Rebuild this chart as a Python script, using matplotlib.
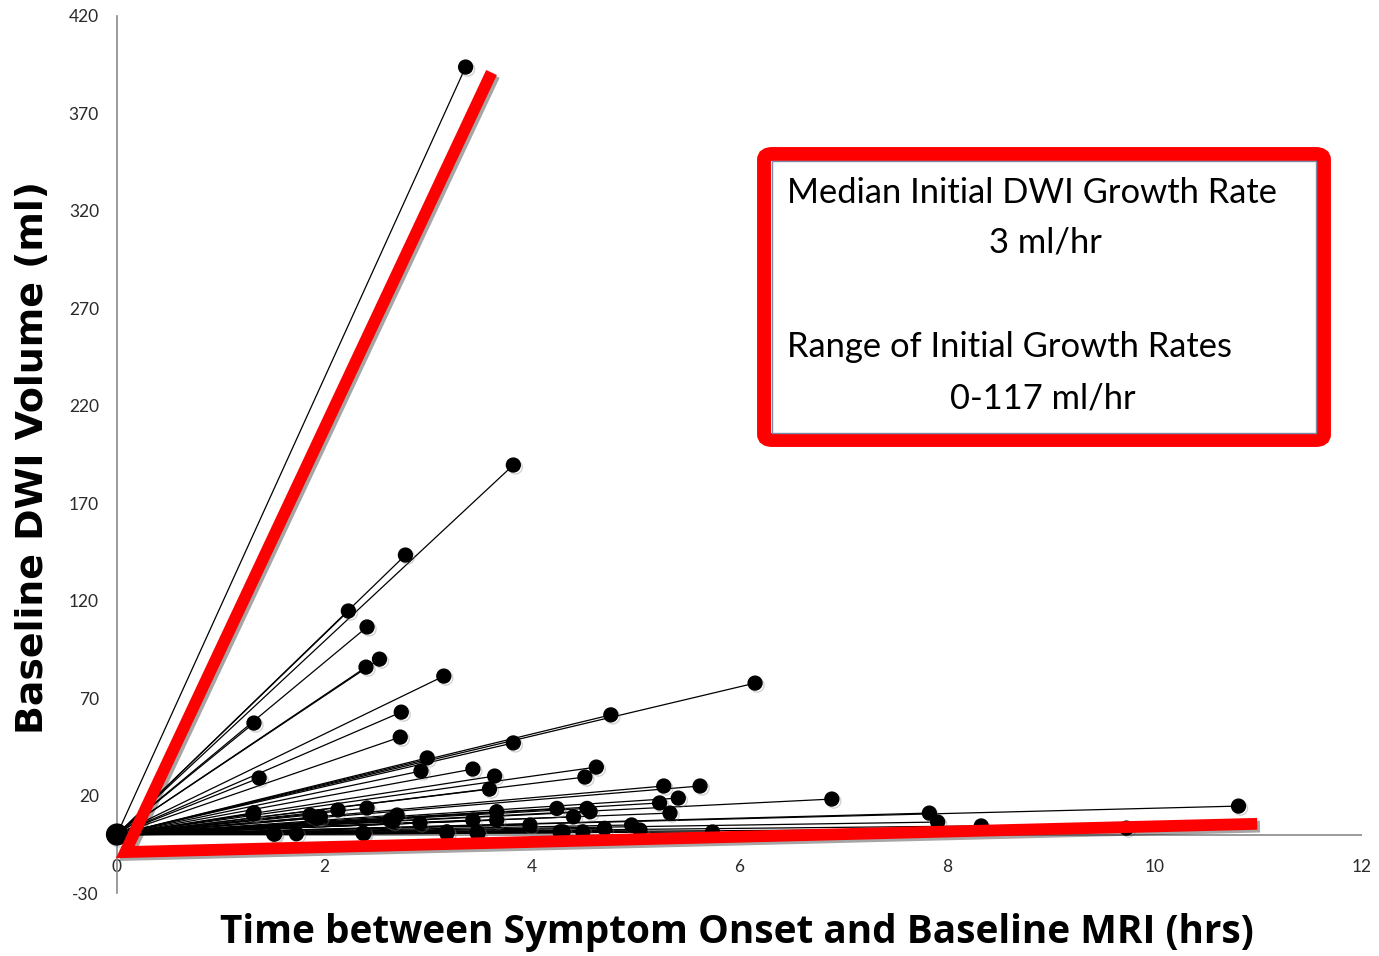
import matplotlib.pyplot as plt
import matplotlib.patheffects as pe
from matplotlib.patches import FancyBboxPatch, Rectangle

plt.rcParams['axes.unicode_minus'] = False

# every patient starts at symptom onset with no lesion
onset_t0 = 0.0
onset_vol0 = 0.0

# time from symptom onset to baseline MRI (hrs) and baseline DWI volume (ml)
onset_hrs = [3.36, 3.82, 2.78, 2.23, 2.41, 2.53, 2.40, 3.15, 6.15, 2.74,
             1.32, 4.76, 2.73, 3.82, 2.99, 2.93, 3.43, 3.64, 4.62, 4.51,
             1.37, 3.59, 5.27, 5.62, 5.41, 5.23, 6.89, 5.33, 7.83, 10.81,
             7.91, 8.33, 9.73, 5.74, 1.32, 1.51, 1.73, 1.86, 1.92, 2.13,
             2.41, 2.37, 2.70, 2.66, 3.18, 4.24, 4.53, 4.56, 3.66, 3.66,
             3.43, 4.40, 3.98, 3.18, 3.48, 4.27, 4.49, 4.70, 4.96, 5.04,
             2.92, 2.63, 1.96, 4.30, 1.31, 3.47, 4.28, 2.38, 1.52]
dwi_ml = [393.8, 189.6, 143.4, 114.7, 106.5, 90.0, 85.9, 81.3, 77.7, 62.8,
          57.2, 61.4, 50.0, 47.0, 39.3, 32.6, 33.6, 30.0, 34.6, 29.5,
          29.0, 23.3, 24.9, 24.9, 18.7, 16.2, 18.2, 11.0, 11.0, 14.6,
          6.4, 4.4, 3.3, 1.3, 11.2, 0.4, 0.4, 10.0, 8.5, 12.6,
          13.6, 0.8, 10.0, 6.6, 1.4, 13.4, 13.4, 11.7, 11.7, 7.4,
          7.4, 9.1, 4.9, 0.6, 0.6, 1.4, 1.4, 3.2, 4.9, 2.3,
          5.9, 7.4, 9.1, 1.4, 10.5, 1.0, 0.8, 0.5, 0.2]

x_ticks = [0, 2, 4, 6, 8, 10, 12]
y_ticks = [-30, 20, 70, 120, 170, 220, 270, 320, 370, 420]

# red wedge bounding the growth rates
wedge_hrs = [3.61, 0.08, 10.99]
wedge_ml = [391, -9, 5.5]

W, H = 1379, 956
fig = plt.figure(figsize=(W / 100, H / 100), dpi=100)
ax = fig.add_axes([117 / W, 63 / H, 1245 / W, 877 / H])
ax.set_xlim(0, 12)
ax.set_ylim(-30, 420)

# each patient: segment from onset to the baseline scan
for t, v in zip(onset_hrs, dwi_ml):
    ax.plot([onset_t0, t], [onset_vol0, v], color='black', lw=0.9,
            clip_on=False, zorder=3)

dot_shadow = [pe.SimpleLineShadow(offset=(1.5, -1.5), shadow_color='gray', alpha=0.35),
              pe.Normal()]
ax.plot(onset_hrs, dwi_ml, ls='none', marker='o', ms=10, color='black',
        clip_on=False, zorder=4, path_effects=dot_shadow)
# all the onset markers pile up into one blob
ax.plot([onset_t0], [onset_vol0], ls='none', marker='o', ms=15, color='black',
        clip_on=False, zorder=4, path_effects=dot_shadow)

ax.axhline(0, color='#8a8a8a', lw=1.2, zorder=1)

for s in ['top', 'right']:
    ax.spines[s].set_visible(False)
ax.spines['left'].set_color('#8a8a8a')
ax.spines['left'].set_linewidth(1.2)
ax.spines['bottom'].set_position(('data', -12.5))
ax.spines['bottom'].set_color('none')

ax.set_xticks(x_ticks)
ax.set_yticks(y_ticks)
ax.tick_params(length=0, labelcolor='#2a2a2a', labelsize=12.5)
ax.tick_params(axis='y', pad=13)
ax.tick_params(axis='x', pad=0)
for lab in ax.get_xticklabels() + ax.get_yticklabels():
    lab.set_family('Lato')

ax.plot(wedge_hrs, wedge_ml, color='red', lw=8.5, solid_joinstyle='miter',
        solid_capstyle='butt', clip_on=False, zorder=6,
        path_effects=[pe.SimpleLineShadow(offset=(2, -2), alpha=0.35), pe.Normal()])

renderer = fig.canvas.get_renderer()


def fit_width(txt, target_px, vertical=False):
    bb = txt.get_window_extent(renderer)
    size = bb.height if vertical else bb.width
    txt.set_fontsize(txt.get_fontsize() * target_px / size)


ylab = fig.text(33 / W, 1 - 457 / H, 'Baseline DWI Volume (ml)', rotation=90,
                ha='center', va='center', fontsize=25, fontweight='bold',
                family='DejaVu Sans')
fit_width(ylab, 555, vertical=True)
xlab = fig.text(737 / W, 1 - 932 / H,
                'Time between Symptom Onset and Baseline MRI (hrs)',
                ha='center', va='center', fontsize=27, fontweight='bold',
                family='Open Sans')
fit_width(xlab, 1035)

# text box with red frame
frame = FancyBboxPatch((764 / W, 1 - 440 / H), 560 / W, 286 / H,
                       boxstyle='round,pad=0,rounding_size=0.006',
                       transform=fig.transFigure, fc='white', ec='red', lw=10,
                       zorder=7,
                       path_effects=[pe.SimplePatchShadow(offset=(3, -3), alpha=0.35),
                                     pe.Normal()])
fig.patches.append(frame)
inner = Rectangle((772 / W, 1 - 433 / H), 544 / W, 272 / H,
                  transform=fig.transFigure, fill=False, ec='#7a8aa8', lw=1,
                  zorder=8)
fig.patches.append(inner)

t1 = fig.text(787 / W, 1 - 193 / H, 'Median Initial DWI Growth Rate',
              ha='left', va='center', fontsize=24, family='Lato', zorder=9)
fit_width(t1, 490)
fs = t1.get_fontsize()
fig.text(1045 / W, 1 - 243 / H, '3 ml/hr', ha='center', va='center',
         fontsize=fs, family='Lato', zorder=9)
fig.text(787 / W, 1 - 347 / H, 'Range of Initial Growth Rates', ha='left',
         va='center', fontsize=fs, family='Lato', zorder=9)
fig.text(1043 / W, 1 - 399 / H, '0-117 ml/hr', ha='center', va='center',
         fontsize=fs, family='Lato', zorder=9)

fig.savefig('out.png', dpi=100)
